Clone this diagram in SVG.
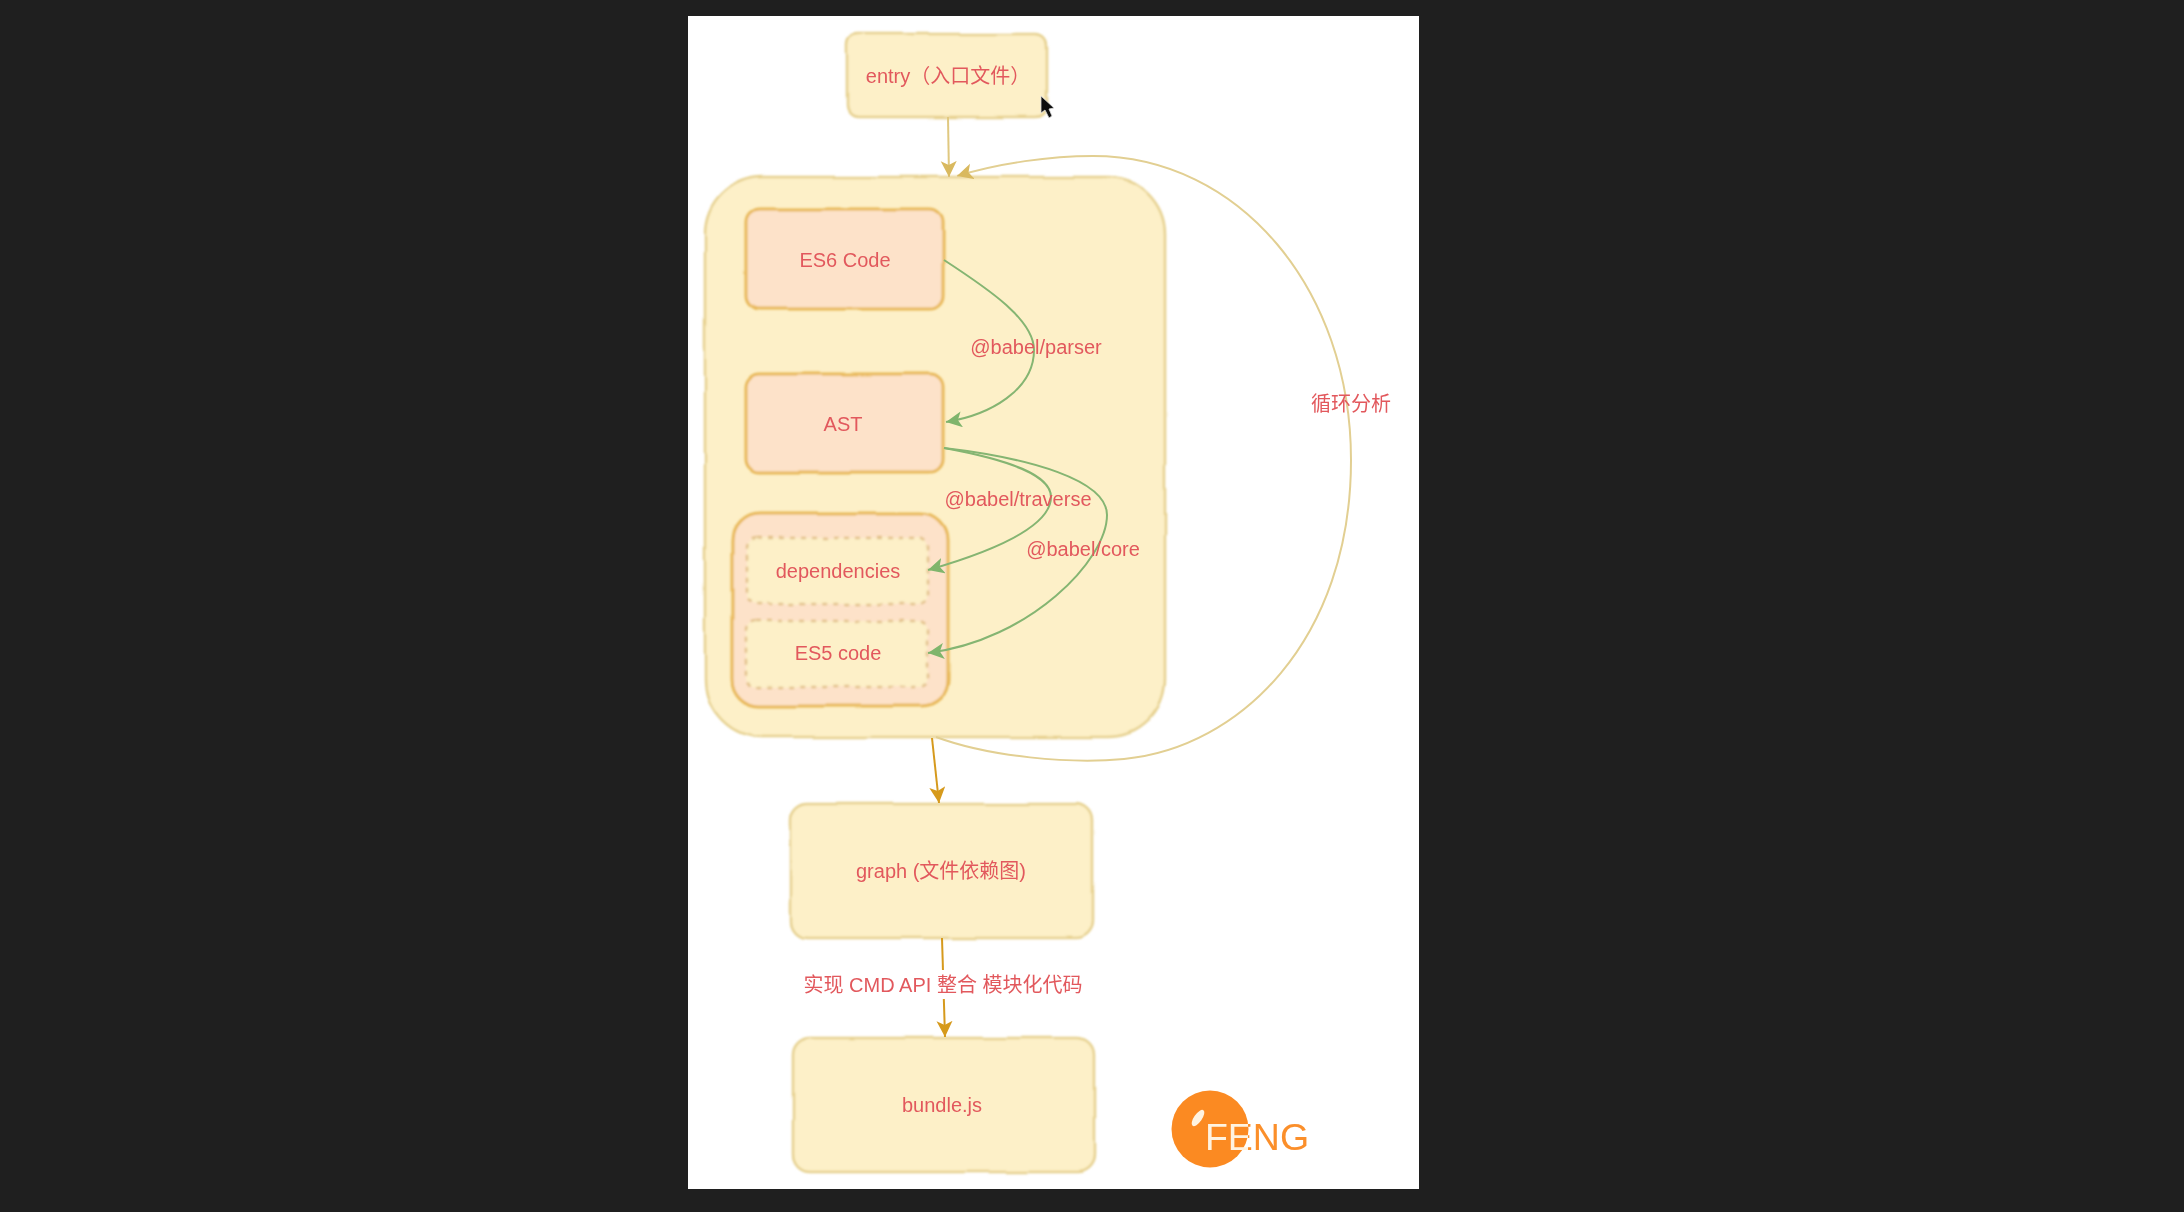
<svg xmlns="http://www.w3.org/2000/svg" width="2184" height="1212" viewBox="0 0 2184 1212">
<style>
text{font-family:"Liberation Sans","Noto Sans CJK SC",sans-serif;font-size:20px;fill:#e2595d;text-anchor:middle;dominant-baseline:central}
.y{fill:#fdf0c8;stroke:#e6d08e;stroke-width:2.5}
.o{fill:#fde2c9;stroke:#e8b858;stroke-width:3}
.d{fill:#fdf0c8;stroke:#e3c28c;stroke-width:2.5;stroke-dasharray:5 6}
.c{fill:none;stroke-width:2}
.ey{stroke:#e0c880}
.eo{stroke:#d69a1f}
.eg{stroke:#85b572}
.el{stroke:#e2cf92}
</style>
<defs>
<filter id="sk" x="-5%" y="-5%" width="110%" height="110%"><feTurbulence type="fractalNoise" baseFrequency="0.018" numOctaves="2" seed="4"/><feDisplacementMap in="SourceGraphic" scale="4" xChannelSelector="R" yChannelSelector="G"/><feGaussianBlur stdDeviation="0.8"/></filter>
<filter id="bl" x="-5%" y="-5%" width="110%" height="110%"><feGaussianBlur stdDeviation="0.75"/></filter>
<marker id="ay" markerUnits="userSpaceOnUse" markerWidth="20" markerHeight="18" refX="16" refY="8" orient="auto"><path d="M0 0L16 8L0 16L4 8Z" fill="#d9b95f"/></marker>
<marker id="ao" markerUnits="userSpaceOnUse" markerWidth="20" markerHeight="18" refX="16" refY="8" orient="auto"><path d="M0 0L16 8L0 16L4 8Z" fill="#d69a1f"/></marker>
<marker id="ag" markerUnits="userSpaceOnUse" markerWidth="20" markerHeight="18" refX="16" refY="8" orient="auto"><path d="M0 0L16 8L0 16L4 8Z" fill="#7fb56c"/></marker>
<linearGradient id="lg" gradientUnits="userSpaceOnUse" x1="1206" y1="0" x2="1308" y2="0"><stop offset="0.41" stop-color="#fff3e0"/><stop offset="0.41" stop-color="#fb8f2c"/></linearGradient>
</defs>
<rect width="2184" height="1212" fill="#1f1f1f"/>
<rect x="688" y="16" width="731" height="1173" fill="#fff"/>
<g id="process" filter="url(#sk)"><rect class="y" x="705" y="177" width="460" height="560" rx="58"/></g>
<g id="entry"><rect class="y" x="847" y="34" width="200" height="83" rx="11" filter="url(#sk)"/><text x="948" y="76" filter="url(#bl)">entry（入口文件）</text></g>
<g id="es6"><rect class="o" x="746" y="209" width="197" height="100" rx="13" filter="url(#sk)"/><text x="845" y="260" filter="url(#bl)">ES6 Code</text></g>
<g id="ast"><rect class="o" x="746" y="374" width="197" height="98" rx="13" filter="url(#sk)"/><text x="843" y="424" filter="url(#bl)">AST</text></g>
<g id="output"><rect class="o" x="732" y="514" width="216" height="192" rx="27" filter="url(#sk)"/></g>
<g id="dependencies"><rect class="d" x="746" y="538" width="182" height="66" rx="10" filter="url(#sk)"/><text x="838" y="571" filter="url(#bl)">dependencies</text></g>
<g id="es5"><rect class="d" x="746" y="621" width="182" height="66" rx="10" filter="url(#sk)"/><text x="838" y="653" filter="url(#bl)">ES5 code</text></g>
<g id="graph"><rect class="y" x="791" y="804" width="302" height="134" rx="17" filter="url(#sk)"/><text x="941" y="871" filter="url(#bl)">graph (文件依赖图)</text></g>
<g id="bundle"><rect class="y" x="793" y="1038" width="302" height="134" rx="17" filter="url(#sk)"/><text x="942" y="1105" filter="url(#bl)">bundle.js</text></g>
<g id="connectors" filter="url(#bl)">
<path class="c ey" marker-end="url(#ay)" d="M948 117L949 177"/>
<path class="c el" marker-end="url(#ay)" d="M936 737C990 757 1070 764 1124 759C1240 748 1351 640 1351 460C1351 290 1240 156 1093 156C1050 156 1000 163 957 176"/>
<path class="c eg" marker-end="url(#ag)" d="M944 260C990 290 1034 320 1034 350C1034 390 990 415 946 422"/>
<path class="c eg" marker-end="url(#ag)" d="M944 448C1010 460 1051 475 1051 497C1051 530 980 555 928 570"/>
<path class="c eg" marker-end="url(#ag)" d="M944 448C1030 458 1107 480 1107 515C1107 560 1030 640 928 653"/>
<path class="c eo" marker-end="url(#ao)" d="M932 738L939 803"/>
<path class="c eo" marker-end="url(#ao)" d="M942 938L945 1037"/>
</g>
<g id="labels" filter="url(#bl)">
<text x="1036" y="347">@babel/parser</text>
<text x="1018" y="499">@babel/traverse</text>
<text x="1083" y="549">@babel/core</text>
<text x="1351" y="404">循环分析</text>
<rect x="800" y="970" width="290" height="29" fill="#fff"/>
<text x="943" y="985">实现 CMD API 整合 模块化代码</text>
</g>
<g id="cursor"><path d="M1041 96L1041 113L1045 110L1049 118L1052 116L1049 109L1054 108Z" fill="#111" stroke="#ddd" stroke-width="0.8" filter="url(#bl)"/></g>
<g id="logo" filter="url(#bl)">
<ellipse cx="1210" cy="1129" rx="38.5" ry="38.5" fill="#fb8a22"/>
<ellipse cx="1198" cy="1118" rx="4" ry="9.5" transform="rotate(35 1198 1118)" fill="#fff3e0"/>
<text x="1257" y="1137" style="font-size:37.5px;fill:url(#lg)">FENG</text>
</g>
</svg>
